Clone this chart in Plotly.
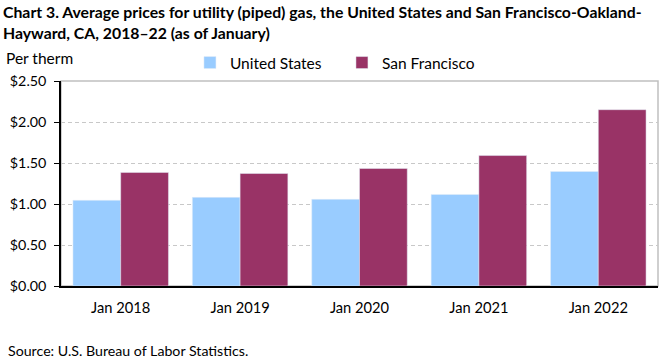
import plotly.graph_objects as go

categories = ["Jan 2018", "Jan 2019", "Jan 2020", "Jan 2021", "Jan 2022"]
us_values = [1.045, 1.081, 1.057, 1.117, 1.397]
sf_values = [1.385, 1.372, 1.433, 1.591, 2.150]
y_ticks = [0, 0.5, 1.0, 1.5, 2.0, 2.5]
y_tick_labels = ["$0.00", "$0.50", "$1.00", "$1.50", "$2.00", "$2.50"]

FONT = "Lato, Calibri, sans-serif"

fig = go.Figure()
fig.add_trace(go.Bar(name="United States", x=categories, y=us_values, marker_color="#99CCFF"))
fig.add_trace(go.Bar(name="San Francisco", x=categories, y=sf_values, marker_color="#993366"))

fig.update_layout(
    width=661, height=361,
    margin=dict(l=61, r=3, t=81, b=75),
    paper_bgcolor="white", plot_bgcolor="white",
    barmode="group", bargap=0.2, bargroupgap=0,
    font=dict(family=FONT, size=14, color="black"),
    title=dict(
        text="Chart 3. Average prices for utility (piped) gas, the United States and San Francisco-Oakland-<br>Hayward, CA, 2018–22 (as of January)",
        x=3 / 661, xanchor="left", xref="container", y=1 - 18 / 361, yanchor="top", yref="container",
        font=dict(family=FONT, size=15.8, color="black", weight="bold"),
    ),
    legend=dict(
        orientation="h", x=0.216, xanchor="left", y=1.088, yanchor="middle",
        font=dict(family=FONT, size=15.5), entrywidth=107, entrywidthmode="pixels",
        itemwidth=30,
    ),
    xaxis=dict(
        showline=True, linecolor="black", linewidth=2, ticks="",
        ticklabelstandoff=7,
        tickfont=dict(family=FONT, size=14.7), fixedrange=True,
    ),
    yaxis=dict(
        range=[0, 2.5], tickvals=y_ticks, ticktext=y_tick_labels,
        showline=True, linecolor="black", linewidth=1.5,
        ticks="outside", ticklen=5, tickcolor="black",
        ticklabelstandoff=5,
        showgrid=True, gridcolor="#c8c8c8", griddash="4px,3px", gridwidth=1,
        zeroline=False, tickfont=dict(family=FONT, size=14.3), fixedrange=True,
    ),
    shapes=[dict(type="rect", xref="paper", yref="paper", x0=0, x1=1, y0=0, y1=1,
                 line=dict(color="#c0c0c0", width=1.5), layer="below")],
    annotations=[
        dict(text="Per therm", xref="paper", yref="paper", x=-0.0955, y=1.112,
             xanchor="left", yanchor="middle", showarrow=False, font=dict(family=FONT, size=15.5)),
        dict(text="Source: U.S. Bureau of Labor Statistics.", xref="paper", yref="paper",
             x=-0.0913, y=-0.317, xanchor="left", yanchor="middle", showarrow=False,
             font=dict(family=FONT, size=14.2)),
    ],
)

fig.write_html("out.html", config={"displayModeBar": False},
               post_script="document.body.style.margin='0';document.body.style.overflow='hidden';")
